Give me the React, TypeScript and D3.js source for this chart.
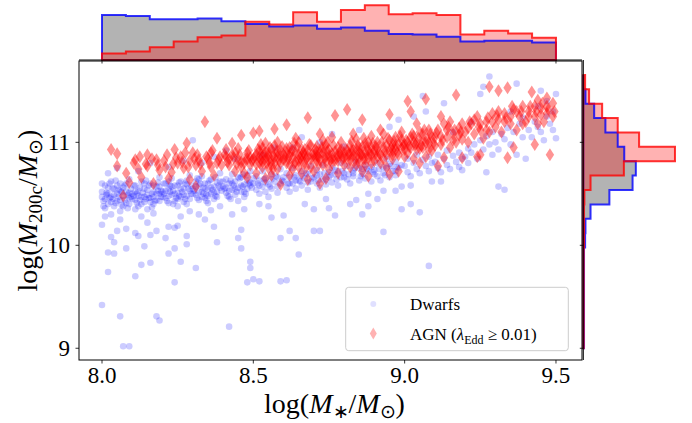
import React from "react";
import * as d3 from "d3";

// ---------- data ----------
const X_TICKS = [8.0, 8.5, 9.0, 9.5];
const Y_TICKS = [9, 10, 11];

// top histogram (density), bins from 8.0 to 9.5
const TOP_BIN_RANGE = [8.0, 9.5];
const TOP_DWARF = [0.95, 0.93, 0.86, 0.86, 0.88, 0.82, 0.76, 0.71, 0.73, 0.66, 0.69, 0.62, 0.55, 0.54, 0.49, 0.39, 0.41, 0.41, 0.37];
const TOP_AGN = [0.14, 0.18, 0.27, 0.39, 0.48, 0.52, 0.81, 0.75, 1.01, 0.81, 1.06, 1.16, 0.97, 0.99, 0.95, 0.54, 0.62, 0.56, 0.47];

// side histogram (density), bins from 9.0 to 11.655 (low -> high)
const SIDE_BIN_RANGE = [9.0, 11.655];
const SIDE_DWARF = [0.02, 0.02, 0.02, 0.02, 0.02, 0.02, 0.02, 0.05, 0.06, 0.2, 0.72, 1.36, 1.45, 1.13, 0.95, 0.61, 0.3, 0.06, 0.0];
const SIDE_AGN = [0.01, 0.01, 0.01, 0.01, 0.01, 0.01, 0.01, 0.02, 0.02, 0.02, 0.03, 0.2, 1.12, 2.53, 1.54, 0.95, 0.52, 0.16, 0.05];

// scatter: dwarfs [log M*, log M200c]
const DWARFS: [number, number][] = [
  [8.00,10.52],[8.01,10.45],[8.01,10.58],[8.02,10.40],[8.02,10.50],[8.03,10.62],[8.03,10.47],[8.04,10.38],[8.04,10.55],[8.05,10.50],[8.05,10.43],[8.06,10.60],[8.06,10.33],[8.07,10.48],[8.07,10.56],[8.08,10.41],[8.08,10.52],[8.09,10.46],[8.09,10.64],[8.02,10.70],[8.05,10.75],[8.00,10.20],[8.04,10.03],[8.02,9.93],[8.04,9.92],[8.08,9.97],[8.05,10.14],[8.03,10.08],[8.00,9.42],[8.06,9.31],[8.07,9.02],[8.09,9.02],[8.02,9.74],[8.08,10.16],[8.01,10.28],[8.06,10.25],
  [8.00,10.47],[8.01,10.36],[8.02,10.56],[8.03,10.42],[8.04,10.49],[8.05,10.58],[8.06,10.44],[8.07,10.38],[8.08,10.60],[8.09,10.51],[8.00,10.60],[8.03,10.30],[8.06,10.53],[8.09,10.40],
  [8.005,10.43],[8.015,10.51],[8.025,10.46],[8.035,10.55],[8.045,10.41],[8.055,10.47],[8.065,10.52],[8.075,10.44],[8.085,10.49],[8.095,10.55],[8.005,10.38],[8.025,10.60],[8.045,10.63],[8.065,10.39],[8.085,10.36],[8.015,10.49],[8.055,10.54],[8.075,10.58],[8.095,10.47],[8.035,10.45],
  [8.10,10.50],[8.11,10.44],[8.11,10.58],[8.12,10.38],[8.12,10.53],[8.13,10.47],[8.13,10.62],[8.14,10.42],[8.14,10.55],[8.15,10.49],[8.15,10.35],[8.16,10.60],[8.16,10.46],[8.17,10.52],[8.17,10.40],[8.18,10.57],[8.18,10.44],[8.19,10.50],[8.19,10.66],[8.12,10.72],[8.16,10.80],[8.11,9.70],[8.13,9.81],[8.16,9.83],[8.18,9.31],[8.19,9.27],[8.14,9.99],[8.12,10.09],[8.11,10.12],[8.16,10.10],[8.18,10.14],[8.15,10.22],[8.13,10.28],[8.17,10.31],
  [8.10,10.45],[8.11,10.52],[8.12,10.48],[8.13,10.40],[8.14,10.60],[8.15,10.54],[8.16,10.42],[8.17,10.58],[8.18,10.50],[8.19,10.43],[8.11,10.35],[8.14,10.47],[8.17,10.47],[8.19,10.57],
  [8.105,10.48],[8.115,10.41],[8.125,10.56],[8.135,10.51],[8.145,10.45],[8.155,10.58],[8.165,10.50],[8.175,10.43],[8.185,10.53],[8.195,10.47],[8.105,10.58],[8.125,10.44],[8.145,10.63],[8.165,10.37],[8.185,10.61],[8.115,10.50],[8.155,10.46],[8.195,10.53],
  [8.20,10.52],[8.21,10.46],[8.21,10.60],[8.22,10.41],[8.22,10.55],[8.23,10.49],[8.23,10.65],[8.24,10.43],[8.24,10.58],[8.25,10.51],[8.25,10.38],[8.26,10.62],[8.26,10.47],[8.27,10.55],[8.27,10.42],[8.28,10.59],[8.28,10.48],[8.29,10.53],[8.29,10.68],[8.22,10.76],[8.27,10.82],[8.24,9.64],[8.26,9.84],[8.22,9.92],[8.24,9.97],[8.21,10.07],[8.22,10.18],[8.24,10.17],[8.25,10.19],[8.28,10.01],[8.28,10.09],[8.26,10.28],[8.29,10.33],
  [8.20,10.47],[8.21,10.53],[8.22,10.48],[8.23,10.57],[8.24,10.50],[8.25,10.45],[8.26,10.55],[8.27,10.49],[8.28,10.63],[8.29,10.45],[8.22,10.62],[8.25,10.58],[8.28,10.40],
  [8.205,10.50],[8.215,10.43],[8.225,10.58],[8.235,10.53],[8.245,10.46],[8.255,10.61],[8.265,10.52],[8.275,10.45],[8.285,10.55],[8.295,10.50],[8.205,10.60],[8.235,10.40],[8.255,10.48],[8.275,10.60],[8.295,10.58],[8.225,10.52],
  [8.30,10.55],[8.31,10.49],[8.31,10.62],[8.32,10.44],[8.32,10.58],[8.33,10.52],[8.33,10.67],[8.34,10.46],[8.34,10.60],[8.35,10.54],[8.35,10.41],[8.36,10.64],[8.36,10.50],[8.37,10.57],[8.37,10.45],[8.38,10.61],[8.38,10.52],[8.39,10.56],[8.39,10.70],[8.33,10.80],[8.37,10.86],[8.31,9.78],[8.38,10.03],[8.37,10.18],[8.34,10.25],[8.32,10.30],[8.36,10.34],[8.39,10.38],[8.30,11.02],
  [8.30,10.50],[8.31,10.57],[8.32,10.52],[8.33,10.47],[8.34,10.55],[8.35,10.60],[8.36,10.56],[8.37,10.51],[8.38,10.47],[8.39,10.62],[8.32,10.64],[8.35,10.48],
  [8.305,10.53],[8.315,10.46],[8.325,10.60],[8.335,10.56],[8.345,10.49],[8.355,10.63],[8.365,10.54],[8.375,10.48],[8.385,10.58],[8.395,10.53],[8.315,10.65],[8.345,10.43],[8.375,10.66],[8.335,10.50],
  [8.40,10.57],[8.41,10.51],[8.41,10.64],[8.42,10.47],[8.42,10.60],[8.43,10.54],[8.43,10.69],[8.44,10.49],[8.44,10.62],[8.45,10.56],[8.45,10.43],[8.46,10.66],[8.46,10.52],[8.47,10.59],[8.47,10.47],[8.48,10.63],[8.48,10.55],[8.49,10.58],[8.49,10.72],[8.44,10.84],[8.42,9.21],[8.45,10.07],[8.46,9.97],[8.46,10.15],[8.48,9.64],[8.49,9.84],[8.43,10.30],[8.47,10.35],[8.41,10.92],
  [8.40,10.62],[8.41,10.56],[8.42,10.53],[8.43,10.60],[8.44,10.55],[8.45,10.66],[8.46,10.58],[8.47,10.52],[8.48,10.68],[8.49,10.61],
  [8.405,10.55],[8.415,10.48],[8.425,10.63],[8.435,10.58],[8.445,10.52],[8.455,10.65],[8.465,10.57],[8.475,10.50],[8.485,10.60],[8.495,10.56],[8.425,10.45],[8.465,10.69],
  [8.50,10.60],[8.51,10.54],[8.51,10.67],[8.52,10.50],[8.52,10.63],[8.53,10.57],[8.53,10.72],[8.54,10.52],[8.54,10.65],[8.55,10.59],[8.55,10.47],[8.56,10.69],[8.56,10.55],[8.57,10.62],[8.58,10.66],[8.58,10.51],[8.59,10.60],[8.59,10.74],[8.50,9.67],[8.52,9.65],[8.49,9.78],[8.56,10.27],[8.59,9.65],[8.59,10.07],[8.55,10.38],[8.53,10.88],[8.57,10.95],[8.52,10.40],
  [8.50,10.65],[8.52,10.58],[8.54,10.61],[8.56,10.64],[8.58,10.57],
  [8.515,10.60],[8.535,10.64],[8.555,10.57],[8.575,10.67],[8.595,10.63],
  [8.60,10.62],[8.61,10.56],[8.61,10.70],[8.62,10.52],[8.62,10.66],[8.63,10.60],[8.63,10.75],[8.64,10.55],[8.64,10.68],[8.65,10.63],[8.66,10.72],[8.66,10.58],[8.67,10.65],[8.68,10.69],[8.68,10.54],[8.69,10.62],[8.69,10.77],[8.61,9.66],[8.60,10.29],[8.62,10.14],[8.64,10.07],[8.65,9.91],[8.67,10.40],[8.63,10.95],[8.66,11.05],
  [8.60,10.66],[8.62,10.60],[8.64,10.63],[8.66,10.67],[8.68,10.61],
  [8.615,10.60],[8.635,10.66],[8.655,10.62],[8.675,10.70],[8.695,10.65],
  [8.70,10.66],[8.71,10.60],[8.71,10.73],[8.72,10.56],[8.72,10.69],[8.73,10.64],[8.73,10.78],[8.74,10.59],[8.75,10.71],[8.75,10.66],[8.76,10.75],[8.76,10.61],[8.77,10.69],[8.78,10.72],[8.78,10.58],[8.79,10.66],[8.79,10.80],[8.70,10.14],[8.72,10.14],[8.70,10.35],[8.75,10.36],[8.77,10.29],[8.74,10.45],[8.76,11.08],[8.72,11.00],
  [8.71,10.68],[8.74,10.64],[8.77,10.73],
  [8.715,10.63],[8.735,10.70],[8.755,10.68],[8.775,10.64],[8.795,10.72],
  [8.80,10.70],[8.81,10.64],[8.81,10.77],[8.82,10.60],[8.83,10.73],[8.83,10.67],[8.84,10.81],[8.85,10.63],[8.85,10.75],[8.86,10.69],[8.87,10.78],[8.87,10.65],[8.88,10.72],[8.89,10.76],[8.89,10.62],[8.82,10.40],[8.84,10.44],[8.86,10.30],[8.88,10.38],[8.85,11.12],[8.80,10.96],[8.88,10.50],
  [8.80,10.66],[8.83,10.70],[8.86,10.74],
  [8.815,10.69],[8.835,10.75],[8.855,10.67],[8.875,10.74],[8.895,10.71],
  [8.90,10.73],[8.91,10.67],[8.91,10.80],[8.92,10.63],[8.93,10.76],[8.93,10.70],[8.94,10.84],[8.95,10.66],[8.95,10.79],[8.96,10.72],[8.97,10.81],[8.97,10.68],[8.98,10.75],[8.99,10.78],[8.93,10.53],[8.97,10.53],[8.99,10.57],[8.93,10.13],[8.99,10.35],[8.95,11.15],[8.98,11.22],[8.91,10.45],
  [8.90,10.69],[8.94,10.75],[8.97,10.72],
  [8.915,10.74],[8.935,10.68],[8.955,10.77],[8.975,10.76],
  [9.00,10.77],[9.01,10.71],[9.01,10.84],[9.02,10.67],[9.03,10.80],[9.04,10.74],[9.04,10.88],[9.05,10.70],[9.06,10.83],[9.07,10.77],[9.08,10.86],[9.08,10.72],[9.09,10.80],[9.02,10.58],[9.02,10.40],[9.05,10.32],[9.08,9.80],[9.03,11.25],[9.07,11.30],[9.09,10.62],[9.06,11.45],
  [9.10,10.81],[9.11,10.75],[9.11,10.88],[9.12,10.71],[9.13,10.84],[9.14,10.78],[9.14,10.92],[9.15,10.74],[9.16,10.87],[9.17,10.81],[9.18,10.90],[9.18,10.76],[9.19,10.84],[9.13,11.38],[9.16,11.10],[9.19,10.73],[9.12,10.62],
  [9.20,10.86],[9.21,10.80],[9.21,10.94],[9.22,10.90],[9.23,10.98],[9.24,10.84],[9.25,11.02],[9.26,10.93],[9.27,11.06],[9.27,10.71],[9.28,10.98],[9.29,11.10],[9.26,11.54],[9.25,11.47],[9.28,11.64],[9.22,11.20],[9.29,10.88],
  [9.30,11.00],[9.31,10.93],[9.31,10.57],[9.33,10.54],[9.32,11.08],[9.33,11.03],[9.34,11.14],[9.35,10.98],[9.36,11.10],[9.37,11.57],[9.37,10.88],[9.38,11.18],[9.39,11.05],[9.40,10.84],[9.35,11.30],[9.39,11.24],
  [9.41,11.12],[9.42,11.05],[9.43,11.20],[9.44,11.15],[9.45,11.50],[9.45,11.10],[9.46,11.02],[9.47,11.25],[9.48,11.18],[9.49,11.30],[9.50,11.04],[9.50,11.47],[9.49,11.12],[9.44,11.35],[9.47,11.40],
];

// scatter: AGN
const AGN: [number, number][] = [
  [8.03,10.93],[8.05,10.89],[8.05,10.77],[8.07,10.48],[8.09,10.61],[8.08,10.70],
  [8.11,10.83],[8.15,10.88],[8.15,10.77],[8.18,10.83],[8.19,10.73],[8.13,10.66],[8.17,10.60],[8.12,10.74],
  [8.105,10.80],[8.125,10.86],[8.145,10.79],[8.165,10.84],[8.185,10.78],
  [8.22,10.65],[8.24,10.93],[8.25,10.80],[8.28,10.99],[8.29,10.64],[8.21,10.76],[8.23,10.71],[8.26,10.86],[8.27,10.75],[8.29,10.82],
  [8.205,10.82],[8.215,10.88],[8.235,10.79],[8.245,10.85],[8.265,10.81],[8.275,10.90],[8.285,10.76],
  [8.31,10.57],[8.30,10.90],[8.31,10.78],[8.34,11.20],[8.36,10.90],[8.38,10.80],[8.38,11.04],[8.33,10.72],[8.35,10.84],[8.37,10.68],[8.39,10.86],[8.32,10.83],[8.36,10.76],
  [8.305,10.84],[8.315,10.88],[8.325,10.79],[8.345,10.86],[8.355,10.80],[8.365,10.92],[8.385,10.83],[8.395,10.78],
  [8.41,10.86],[8.43,10.99],[8.45,10.83],[8.46,11.07],[8.48,10.90],[8.50,11.09],[8.42,10.78],[8.44,10.72],[8.47,10.80],[8.49,10.85],[8.41,10.93],[8.46,10.76],[8.48,10.66],[8.43,10.88],[8.45,10.94],[8.47,10.70],
  [8.42,10.84],[8.44,10.90],[8.46,10.81],[8.48,10.84],[8.49,10.78],
  [8.405,10.88],[8.415,10.81],[8.435,10.85],[8.445,10.79],[8.455,10.88],[8.475,10.84],[8.485,10.92],[8.495,10.82],
  [8.52,11.11],[8.57,11.13],[8.59,10.59],[8.51,10.88],[8.52,10.80],[8.53,10.94],[8.54,10.84],[8.55,10.75],[8.55,10.90],[8.56,10.82],[8.57,10.97],[8.58,10.86],[8.58,10.74],[8.59,10.92],[8.51,10.70],[8.53,10.86],[8.54,10.99],[8.56,10.68],[8.57,10.80],[8.58,11.00],[8.52,10.92],[8.55,10.83],[8.59,10.80],[8.54,10.65],
  [8.50,10.84],[8.51,10.79],[8.52,10.86],[8.53,10.81],[8.54,10.90],[8.55,10.87],[8.56,10.93],[8.57,10.85],[8.58,10.91],[8.59,10.86],[8.53,10.76],[8.56,10.78],
  [8.505,10.86],[8.515,10.93],[8.525,10.83],[8.535,10.89],[8.545,10.80],[8.555,10.95],[8.565,10.87],[8.575,10.91],[8.585,10.82],[8.595,10.96],[8.525,10.98],[8.565,10.74],
  [8.61,11.17],[8.68,11.24],[8.60,10.88],[8.61,10.80],[8.62,10.95],[8.63,10.85],[8.63,10.74],[8.64,10.90],[8.65,10.82],[8.65,11.00],[8.66,10.87],[8.66,10.70],[8.67,10.93],[8.67,10.80],[8.68,10.86],[8.69,10.97],[8.69,10.76],[8.62,10.68],[8.64,11.04],[8.66,10.93],[8.68,10.64],[8.61,10.90],
  [8.60,10.83],[8.61,10.94],[8.62,10.87],[8.63,10.92],[8.64,10.81],[8.65,10.88],[8.66,10.82],[8.67,10.88],[8.68,10.92],[8.69,10.84],[8.62,10.78],[8.65,10.76],
  [8.605,10.86],[8.615,10.84],[8.625,10.91],[8.635,10.80],[8.645,10.96],[8.655,10.85],[8.665,10.90],[8.675,10.84],[8.685,10.98],[8.695,10.89],[8.635,10.99],[8.675,10.76],
  [8.72,10.60],[8.74,10.65],[8.77,11.26],[8.70,10.88],[8.71,10.82],[8.71,10.96],[8.72,10.90],[8.73,10.78],[8.73,11.02],[8.74,10.86],[8.75,10.93],[8.75,10.74],[8.76,10.89],[8.76,11.05],[8.77,10.82],[8.78,10.95],[8.78,10.70],[8.79,10.88],[8.79,11.00],[8.70,10.72],[8.72,11.08],[8.74,10.97],[8.76,10.80],[8.78,10.86],[8.71,10.91],
  [8.70,10.84],[8.71,10.87],[8.72,10.83],[8.73,10.90],[8.74,10.81],[8.75,10.87],[8.76,10.84],[8.77,10.91],[8.78,10.82],[8.79,10.93],[8.73,10.95],
  [8.705,10.93],[8.715,10.86],[8.725,10.95],[8.735,10.85],[8.745,10.91],[8.755,10.83],[8.765,10.97],[8.775,10.87],[8.785,10.90],[8.795,10.84],[8.745,11.00],[8.715,10.78],
  [8.81,11.32],[8.86,11.22],[8.88,10.67],[8.80,10.90],[8.81,10.84],[8.82,10.97],[8.82,10.76],[8.83,10.92],[8.84,10.86],[8.84,11.03],[8.85,10.80],[8.85,10.95],[8.86,10.88],[8.86,10.72],[8.87,10.99],[8.87,10.84],[8.88,10.92],[8.89,11.06],[8.89,10.80],[8.80,10.78],[8.83,11.08],[8.85,10.90],[8.87,10.78],[8.88,11.00],[8.82,10.88],[8.89,10.95],
  [8.80,10.85],[8.81,10.92],[8.82,10.83],[8.83,10.87],[8.84,10.93],[8.85,10.85],[8.86,10.96],[8.87,10.90],[8.88,10.85],[8.89,10.88],[8.84,10.78],
  [8.805,10.94],[8.815,10.88],[8.825,10.92],[8.835,10.82],[8.845,10.97],[8.855,10.89],[8.865,10.84],[8.875,10.95],[8.885,10.89],[8.895,10.99],[8.825,11.01],[8.865,11.04],
  [8.95,11.27],[8.95,10.69],[8.98,10.72],[8.90,10.92],[8.91,10.86],[8.91,11.00],[8.92,10.80],[8.93,10.95],[8.93,11.08],[8.94,10.88],[8.94,10.76],[8.95,11.02],[8.96,10.92],[8.96,10.84],[8.97,11.05],[8.97,10.97],[8.98,10.88],[8.99,11.10],[8.99,10.94],[8.92,11.12],[8.90,10.82],[8.96,10.98],
  [8.90,10.88],[8.91,10.94],[8.92,10.88],[8.93,10.84],[8.94,10.97],[8.95,10.91],[8.96,10.88],[8.97,10.93],[8.98,10.98],[8.99,11.02],
  [8.905,10.96],[8.915,10.90],[8.925,11.00],[8.935,10.91],[8.945,11.04],[8.955,10.95],[8.965,11.01],[8.975,10.90],[8.985,11.06],[8.995,10.97],
  [9.01,11.40],[9.02,11.30],[9.07,11.42],[9.00,10.98],[9.01,10.90],[9.02,11.05],[9.03,10.84],[9.03,11.00],[9.04,10.93],[9.05,11.10],[9.05,10.80],[9.06,11.02],[9.06,10.95],[9.07,10.86],[9.08,11.12],[9.08,10.99],[9.09,11.05],[9.09,10.92],[9.04,11.18],[9.00,10.86],
  [9.00,10.93],[9.01,11.00],[9.02,10.95],[9.03,11.06],[9.04,10.99],[9.05,10.94],[9.06,11.08],[9.07,11.00],[9.08,10.93],
  [9.005,11.02],[9.015,10.96],[9.025,11.08],[9.035,10.98],[9.045,11.04],[9.055,10.97],[9.065,11.12],[9.075,11.03],[9.085,11.08],[9.095,10.99],
  [9.17,11.46],[9.13,10.85],[9.19,10.85],[9.11,10.77],[9.10,11.05],[9.11,11.12],[9.12,10.98],[9.13,11.18],[9.14,11.05],[9.15,10.95],[9.15,11.20],[9.16,11.08],[9.17,11.00],[9.18,11.14],[9.19,11.03],[9.12,11.25],
  [9.10,10.97],[9.12,11.06],[9.14,11.12],[9.16,11.02],[9.18,11.07],[9.19,11.18],
  [9.105,11.09],[9.125,11.02],[9.145,11.15],[9.165,11.12],[9.185,11.10],
  [9.28,11.54],[9.24,10.86],[9.25,10.88],[9.20,11.10],[9.21,11.00],[9.22,11.18],[9.23,11.08],[9.24,11.25],[9.25,11.12],[9.26,11.04],[9.27,11.20],[9.28,11.10],[9.29,11.28],
  [9.21,11.14],[9.23,11.22],[9.25,11.18],[9.27,11.12],[9.29,11.20],
  [9.215,11.20],[9.245,11.15],[9.275,11.24],
  [9.31,11.50],[9.34,11.53],[9.34,10.85],[9.36,10.95],[9.30,11.15],[9.31,11.22],[9.32,11.10],[9.33,11.28],[9.35,11.18],[9.36,11.32],[9.37,11.12],[9.38,11.25],[9.39,11.35],
  [9.31,11.30],[9.33,11.20],[9.35,11.25],[9.37,11.30],[9.39,11.18],
  [9.305,11.26],[9.335,11.24],[9.355,11.35],[9.385,11.30],
  [9.42,11.49],[9.44,11.41],[9.47,11.43],[9.49,11.38],[9.43,10.98],[9.48,10.88],[9.40,11.20],[9.41,11.30],[9.43,11.25],[9.45,11.33],[9.46,11.20],[9.47,11.28],
  [9.41,11.25],[9.43,11.35],[9.45,11.27],[9.47,11.35],[9.49,11.25],[9.44,11.18],
  [9.415,11.35],[9.435,11.30],[9.455,11.38],[9.475,11.32],[9.495,11.30],
];

// ---------- layout ----------
const W = 692, H = 423;
const M = { left: 79, right: 582, top: 61, bottom: 360 };
const TOP_BASE = 60, TOP_TOP = 0;
const SIDE_BASE = 583.3, SIDE_RIGHT = 692;
const FONT = "Liberation Serif";

const x = d3.scaleLinear().domain([7.924, 9.586]).range([M.left, M.right]);
const y = d3.scaleLinear().domain([8.886, 11.79]).range([M.bottom, M.top]);
const yTop = d3.scaleLinear().domain([0, 1.27]).range([TOP_BASE, TOP_TOP]);
const xSide = d3.scaleLinear().domain([0, 3.0]).range([SIDE_BASE, SIDE_RIGHT]);

function edges(range: number[], n: number) {
  const bw = (range[1] - range[0]) / n;
  return d3.range(n + 1).map((i) => range[0] + i * bw);
}

function topPath(vals: number[]) {
  const e = edges(TOP_BIN_RANGE, vals.length);
  const p = d3.path();
  p.moveTo(x(e[0]), yTop(0));
  vals.forEach((v, i) => {
    p.lineTo(x(e[i]), yTop(v));
    p.lineTo(x(e[i + 1]), yTop(v));
  });
  p.lineTo(x(e[vals.length]), yTop(0));
  p.closePath();
  return p.toString();
}

function sidePath(vals: number[]) {
  const e = edges(SIDE_BIN_RANGE, vals.length);
  const p = d3.path();
  p.moveTo(xSide(0), y(e[0]));
  vals.forEach((v, i) => {
    p.lineTo(xSide(v), y(e[i]));
    p.lineTo(xSide(v), y(e[i + 1]));
  });
  p.lineTo(xSide(0), y(e[vals.length]));
  p.closePath();
  return p.toString();
}

const diamond = "M0,-6.5L4.2,0L0,6.5L-4.2,0Z";
const txt = { fontFamily: FONT };

export default function App() {
  const topD = topPath(TOP_DWARF), topA = topPath(TOP_AGN);
  const sideD = sidePath(SIDE_DWARF), sideA = sidePath(SIDE_AGN);
  return (
    <svg width={W} height={H} style={{ position: "absolute", left: 0, top: 0, background: "white", fontFamily: FONT }}>
      <defs>
        <clipPath id="mainclip">
          <rect x={M.left} y={M.top} width={M.right - M.left} height={M.bottom - M.top} />
        </clipPath>
      </defs>

      {/* top histogram */}
      <g>
        <path d={topD} fill="#808080" fillOpacity={0.6} stroke="none" />
        <path d={topA} fill="red" fillOpacity={0.3} stroke="none" />
        <path d={topD} fill="none" stroke="blue" strokeOpacity={0.8} strokeWidth={2} />
        <path d={topA} fill="none" stroke="red" strokeOpacity={0.8} strokeWidth={2} />
        <line x1={M.left} x2={M.right} y1={TOP_BASE} y2={TOP_BASE} stroke="black" strokeWidth={1} />
        {X_TICKS.map((t) => (
          <line key={t} x1={x(t)} x2={x(t)} y1={TOP_BASE} y2={TOP_BASE + 3.5} stroke="black" strokeWidth={0.8} />
        ))}
      </g>

      {/* side histogram */}
      <g>
        <path d={sideD} fill="#808080" fillOpacity={0.6} stroke="none" />
        <path d={sideA} fill="red" fillOpacity={0.3} stroke="none" />
        <path d={sideD} fill="none" stroke="blue" strokeOpacity={0.8} strokeWidth={2} />
        <path d={sideA} fill="none" stroke="red" strokeOpacity={0.8} strokeWidth={2} />
        <line x1={SIDE_BASE} x2={SIDE_BASE} y1={M.top - 1} y2={M.bottom} stroke="black" strokeWidth={1} />
        {Y_TICKS.map((t) => (
          <line key={t} x1={SIDE_BASE - 3.5} x2={SIDE_BASE} y1={y(t)} y2={y(t)} stroke="black" strokeWidth={0.8} />
        ))}
      </g>

      {/* main scatter */}
      <g clipPath="url(#mainclip)">
        {DWARFS.map((d, i) => (
          <circle key={"d" + i} cx={x(d[0])} cy={y(d[1])} r={3.3} fill="blue" fillOpacity={0.2} />
        ))}
        {AGN.map((d, i) => (
          <path key={"a" + i} d={diamond} transform={`translate(${x(d[0])},${y(d[1])})`} fill="red" fillOpacity={0.42} />
        ))}
      </g>

      {/* main frame */}
      <rect x={M.left} y={M.top} width={M.right - M.left} height={M.bottom - M.top} fill="none" stroke="black" strokeWidth={1} />

      {/* x axis */}
      {X_TICKS.map((t) => (
        <g key={t}>
          <line x1={x(t)} x2={x(t)} y1={M.bottom} y2={M.bottom + 3.5} stroke="black" strokeWidth={0.8} />
          <text x={x(t)} y={383} fontSize={23} textAnchor="middle" style={txt}>{t.toFixed(1)}</text>
        </g>
      ))}
      {/* y axis */}
      {Y_TICKS.map((t) => (
        <g key={t}>
          <line x1={M.left - 3.5} x2={M.left} y1={y(t)} y2={y(t)} stroke="black" strokeWidth={0.8} />
          <text x={70} y={y(t) + 8} fontSize={23} textAnchor="end" style={txt}>{t}</text>
        </g>
      ))}

      {/* axis labels */}
      <text x={(M.left + M.right) / 2 + 4} y={413} fontSize={28} textAnchor="middle" style={txt}>
        log(<tspan fontStyle="italic">M</tspan>
        <tspan fontSize={19} dy={5}>∗</tspan>
        <tspan dy={-5}>/</tspan>
        <tspan fontStyle="italic">M</tspan>
        <tspan fontSize={19} dy={5}>⊙</tspan>
        <tspan dy={-5}>)</tspan>
      </text>
      <text transform={`translate(37,${(M.top + M.bottom) / 2}) rotate(-90)`} fontSize={28} textAnchor="middle" style={txt}>
        log(<tspan fontStyle="italic">M</tspan>
        <tspan fontSize={19} dy={5}>200c</tspan>
        <tspan dy={-5}>/</tspan>
        <tspan fontStyle="italic">M</tspan>
        <tspan fontSize={19} dy={5}>⊙</tspan>
        <tspan dy={-5}>)</tspan>
      </text>

      {/* legend */}
      <g>
        <rect x={345.7} y={287.3} width={222.6} height={63.4} rx={3} fill="white" fillOpacity={0.8} stroke="#cccccc" strokeWidth={1} />
        <circle cx={373.3} cy={304} r={3} fill="blue" fillOpacity={0.12} />
        <text x={410} y={310} fontSize={17} style={txt}>Dwarfs</text>
        <path d="M0,-6L3.5,0L0,6L-3.5,0Z" transform="translate(373.3,333.5)" fill="red" fillOpacity={0.3} />
        <text x={410} y={340} fontSize={17} style={txt}>
          AGN (<tspan fontStyle="italic">λ</tspan>
          <tspan fontSize={12} dy={3.5}>Edd</tspan>
          <tspan dy={-3.5}> ≥ 0.01)</tspan>
        </text>
      </g>
    </svg>
  );
}
